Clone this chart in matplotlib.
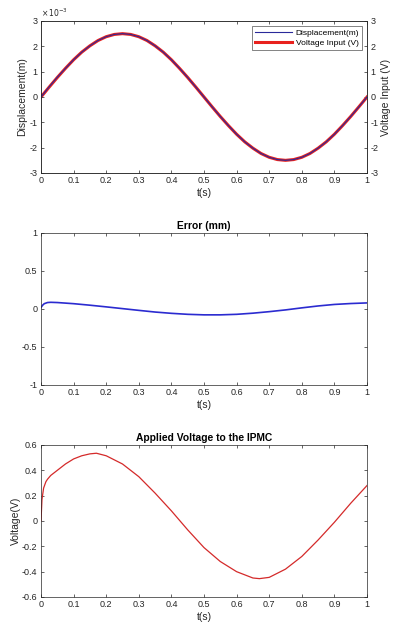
import matplotlib
matplotlib.use("Agg")
import matplotlib.pyplot as plt
from matplotlib.ticker import FuncFormatter

plt.rcParams['font.family'] = ['Liberation Sans', 'DejaVu Sans']
plt.rcParams['font.size'] = 6.5
plt.rcParams['axes.unicode_minus'] = False

# top panel: displacement (m) and voltage input (V)
t_top = [0, 0.025, 0.05, 0.075, 0.1, 0.125, 0.15, 0.175, 0.2, 0.225, 0.25,
         0.275, 0.3, 0.325, 0.35, 0.375, 0.4, 0.425, 0.45, 0.475, 0.5,
         0.525, 0.55, 0.575, 0.6, 0.625, 0.65, 0.675, 0.7, 0.725, 0.75,
         0.775, 0.8, 0.825, 0.85, 0.875, 0.9, 0.925, 0.95, 0.975, 1.0]
volt_in = [0, 0.39, 0.77, 1.13, 1.47, 1.77, 2.02, 2.23, 2.38, 2.47, 2.5,
           2.47, 2.38, 2.23, 2.02, 1.77, 1.47, 1.13, 0.77, 0.39, 0,
           -0.39, -0.77, -1.13, -1.47, -1.77, -2.02, -2.23, -2.38, -2.47, -2.5,
           -2.47, -2.38, -2.23, -2.02, -1.77, -1.47, -1.13, -0.77, -0.39, 0]
disp_m = [0.0, 0.40e-3, 0.78e-3, 1.13e-3, 1.47e-3, 1.77e-3, 2.02e-3, 2.23e-3, 2.38e-3, 2.47e-3, 2.5e-3,
          2.47e-3, 2.38e-3, 2.23e-3, 2.02e-3, 1.77e-3, 1.47e-3, 1.13e-3, 0.77e-3, 0.39e-3, 0.0,
          -0.39e-3, -0.77e-3, -1.13e-3, -1.47e-3, -1.77e-3, -2.02e-3, -2.23e-3, -2.38e-3, -2.47e-3, -2.5e-3,
          -2.47e-3, -2.38e-3, -2.23e-3, -2.02e-3, -1.77e-3, -1.47e-3, -1.13e-3, -0.77e-3, -0.39e-3, 0.0]

# middle panel: error (mm)
t_err = [0, 0.005, 0.01, 0.02, 0.03, 0.05, 0.1, 0.15, 0.2, 0.25, 0.3, 0.35, 0.4,
         0.45, 0.5, 0.55, 0.6, 0.65, 0.7, 0.75, 0.8, 0.85, 0.9, 0.95, 1.0]
err_mm = [0.02, 0.05, 0.07, 0.085, 0.088, 0.085, 0.07, 0.05, 0.028, 0.005, -0.018,
          -0.04, -0.057, -0.07, -0.077, -0.077, -0.07, -0.055, -0.035, -0.012, 0.015,
          0.04, 0.06, 0.072, 0.08]

# bottom panel: applied voltage (V)
t_app = [0, 0.003, 0.008, 0.015, 0.02, 0.03, 0.04, 0.05, 0.075, 0.1, 0.125, 0.15,
         0.17, 0.2, 0.25, 0.3, 0.35, 0.4, 0.45, 0.5, 0.55, 0.6, 0.65, 0.67,
         0.7, 0.75, 0.8, 0.85, 0.9, 0.95, 1.0]
v_app = [0, 0.17, 0.26, 0.31, 0.33, 0.36, 0.38, 0.40, 0.45, 0.49, 0.515, 0.53,
         0.535, 0.515, 0.45, 0.35, 0.22, 0.08, -0.07, -0.21, -0.32, -0.40, -0.45, -0.455,
         -0.445, -0.38, -0.28, -0.15, -0.01, 0.14, 0.28]

xticks = [i / 10 for i in range(11)]
xlabels = ['0', '0.1', '0.2', '0.3', '0.4', '0.5', '0.6', '0.7', '0.8', '0.9', '1']
grey = '#262626'
lab_fs = 7.5
title_fs = 7.4


def style(ax, right=True):
    ax.set_xlim(0, 1)
    ax.set_xticks(xticks)
    ax.set_xticklabels(xlabels)
    ax.tick_params(direction='in', length=2.5, width=0.5, colors=grey,
                   top=True, right=right, pad=2.5, labelsize=6.5)
    for s in ax.spines.values():
        s.set_linewidth(0.5)
        s.set_color(grey)
    ax.set_xlabel('t(s)', fontsize=lab_fs, color=grey, labelpad=2)


fig = plt.figure(figsize=(3.94, 6.28), dpi=100)
L, W = 41 / 394, 326 / 394

# panel 1
ax1 = fig.add_axes([L, 1 - 173 / 628, W, 152 / 628])
ax2 = ax1.twinx()
ax1.set_zorder(ax2.get_zorder() + 1)
ax1.patch.set_visible(False)
l2, = ax2.plot(t_top, volt_in, color='#e8211e', lw=2.2, label='Voltage Input (V)')
l1, = ax1.plot(t_top, disp_m, color='#2a2a9a', lw=0.8, label='Displacement(m)')
style(ax1, right=False)
ax1.set_ylim(-3e-3, 3e-3)
ax1.set_yticks([-3e-3, -2e-3, -1e-3, 0, 1e-3, 2e-3, 3e-3])
ax1.yaxis.set_major_formatter(FuncFormatter(lambda v, p: f'{v * 1e3:g}'))
ax1.set_ylabel('Displacement(m)', fontsize=lab_fs, color=grey, labelpad=2)
ax1.text(0.0, 1.01, r'$\times\,10^{-3}$', transform=ax1.transAxes, fontsize=5.5,
         color=grey, ha='left', va='bottom')
ax2.set_ylim(-3, 3)
ax2.set_yticks([-3, -2, -1, 0, 1, 2, 3])
ax2.tick_params(direction='in', length=2.5, width=0.5, colors=grey, pad=2.5, labelsize=6.5)
for s in ax2.spines.values():
    s.set_linewidth(0.5)
    s.set_color(grey)
ax2.set_ylabel('Voltage Input (V)', fontsize=lab_fs, color=grey, labelpad=2)
leg = ax1.legend(handles=[l1, l2], loc='upper right', fontsize=6, frameon=True,
                 fancybox=False, edgecolor=grey, borderpad=0.35, handlelength=4.5,
                 handletextpad=0.4, labelspacing=0.25, borderaxespad=0.6)
leg.get_frame().set_linewidth(0.5)

# panel 2
ax3 = fig.add_axes([L, 1 - 385 / 628, W, 152 / 628])
ax3.plot(t_err, err_mm, color='#2b2bd0', lw=1.2)
style(ax3)
ax3.set_ylim(-1, 1)
ax3.set_yticks([-1, -0.5, 0, 0.5, 1])
ax3.set_yticklabels(['-1', '-0.5', '0', '0.5', '1'])
ax3.set_title('Error (mm)', fontsize=title_fs, fontweight='bold', pad=3)

# panel 3
ax4 = fig.add_axes([L, 1 - 597 / 628, W, 152 / 628])
ax4.plot(t_app, v_app, color='#d42a2a', lw=0.9)
style(ax4)
ax4.set_ylim(-0.6, 0.6)
ax4.set_yticks([-0.6, -0.4, -0.2, 0, 0.2, 0.4, 0.6])
ax4.set_yticklabels(['-0.6', '-0.4', '-0.2', '0', '0.2', '0.4', '0.6'])
ax4.set_ylabel('Voltage(V)', fontsize=lab_fs, color=grey, labelpad=1)
ax4.set_title('Applied Voltage to the IPMC', fontsize=title_fs, fontweight='bold', pad=3)

fig.savefig('out.png', dpi=100)
